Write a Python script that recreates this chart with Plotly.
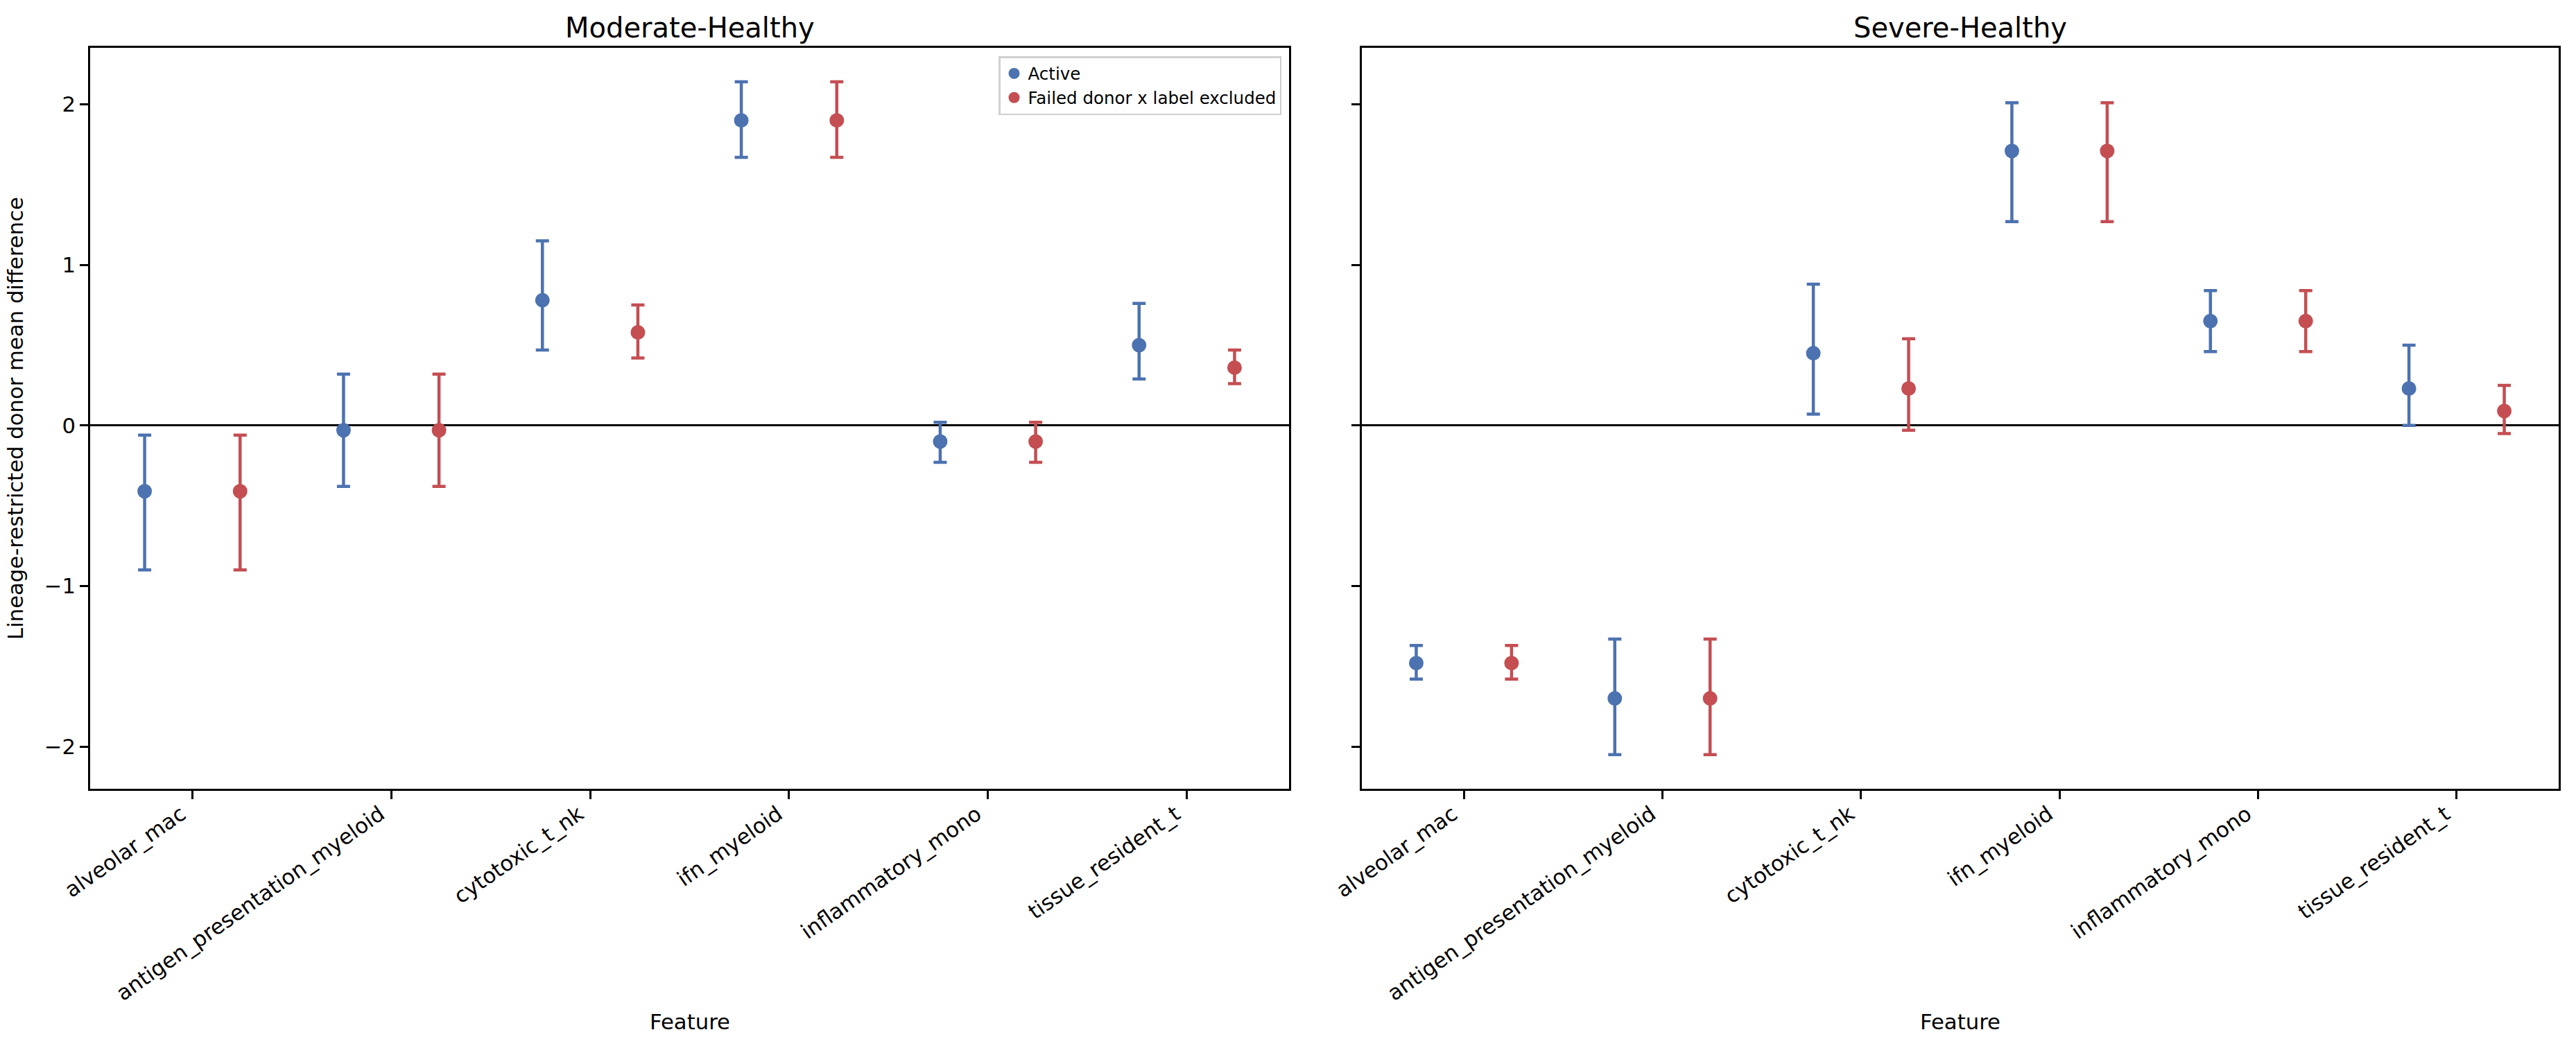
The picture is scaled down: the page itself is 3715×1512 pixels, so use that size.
import plotly.graph_objects as go
from plotly.subplots import make_subplots

features = ["alveolar_mac", "antigen_presentation_myeloid", "cytotoxic_t_nk",
            "ifn_myeloid", "inflammatory_mono", "tissue_resident_t"]
panels = ["Moderate-Healthy", "Severe-Healthy"]
series = ["Active", "Failed donor x label excluded"]

# Moderate-Healthy
mod_active = [-0.41, -0.03, 0.78, 1.90, -0.10, 0.50]
mod_active_lo = [-0.90, -0.38, 0.47, 1.67, -0.23, 0.29]
mod_active_hi = [-0.06, 0.32, 1.15, 2.14, 0.02, 0.76]
mod_failed = [-0.41, -0.03, 0.58, 1.90, -0.10, 0.36]
mod_failed_lo = [-0.90, -0.38, 0.42, 1.67, -0.23, 0.26]
mod_failed_hi = [-0.06, 0.32, 0.75, 2.14, 0.02, 0.47]

# Severe-Healthy
sev_active = [-1.48, -1.70, 0.45, 1.71, 0.65, 0.23]
sev_active_lo = [-1.58, -2.05, 0.07, 1.27, 0.46, 0.00]
sev_active_hi = [-1.37, -1.33, 0.88, 2.01, 0.84, 0.50]
sev_failed = [-1.48, -1.70, 0.23, 1.71, 0.65, 0.09]
sev_failed_lo = [-1.58, -2.05, -0.03, 1.27, 0.46, -0.05]
sev_failed_hi = [-1.37, -1.33, 0.54, 2.01, 0.84, 0.25]

colors = ["#4C72B0", "#C44E52"]
offsets = [-0.24, 0.24]
FONT = "DejaVu Sans"
LABEL_SIZE = 30.7

W, H = 3715, 1512

fig = make_subplots(rows=1, cols=2, shared_yaxes=True)

data = [
    [(mod_active, mod_active_lo, mod_active_hi), (mod_failed, mod_failed_lo, mod_failed_hi)],
    [(sev_active, sev_active_lo, sev_active_hi), (sev_failed, sev_failed_lo, sev_failed_hi)],
]

for p, panel in enumerate(data):
    for s, (vals, lo, hi) in enumerate(panel):
        xs = [i + offsets[s] for i in range(len(features))]
        fig.add_trace(go.Scatter(
            x=xs, y=vals, mode="markers", name=series[s],
            marker=dict(color=colors[s], size=21),
            error_y=dict(type="data", symmetric=False,
                         array=[h - v for h, v in zip(hi, vals)],
                         arrayminus=[v - l for v, l in zip(vals, lo)],
                         color=colors[s], thickness=4.5, width=9.5),
            showlegend=(p == 0), hoverinfo="skip",
        ), row=1, col=p + 1)

axis_common = dict(showline=True, mirror=True, linecolor="black", linewidth=2.7,
                   showgrid=False, ticks="outside", ticklen=12, tickwidth=2.7,
                   tickcolor="black",
                   tickfont=dict(family=FONT, size=LABEL_SIZE, color="black"))

xdoms = [[130 / W, 1859 / W], [1964 / W, 3690 / W]]
ydom = [1 - 1138 / H, 1 - 69 / H]

for c in range(2):
    fig.update_xaxes(domain=xdoms[c], range=[-0.514, 5.514], tickmode="array",
                     tickvals=list(range(len(features))), ticktext=features,
                     tickangle=-35, zeroline=False, ticklabelshift=-16,
                     ticklabelstandoff=-8,
                     **axis_common, row=1, col=c + 1)
    fig.update_yaxes(domain=ydom, range=[-2.263, 2.352], tickvals=[-2, -1, 0, 1, 2],
                     zeroline=True, zerolinecolor="black", zerolinewidth=3.3,
                     **axis_common, row=1, col=c + 1)

fig.update_yaxes(title=dict(text="Lineage-restricted donor mean difference",
                            font=dict(family=FONT, size=LABEL_SIZE, color="black"),
                            standoff=22),
                 row=1, col=1)
fig.update_yaxes(showticklabels=False, row=1, col=2)

for c, name in enumerate(panels):
    xc = sum(xdoms[c]) / 2
    fig.add_annotation(text=name, xref="paper", yref="paper",
                       x=xc, y=1 - 40 / H, xanchor="center", yanchor="middle",
                       showarrow=False, font=dict(family=FONT, size=40, color="black"))
    fig.add_annotation(text="Feature", xref="paper", yref="paper",
                       x=xc, y=1 - 1474 / H, xanchor="center", yanchor="middle",
                       showarrow=False, font=dict(family=FONT, size=LABEL_SIZE, color="black"))

fig.update_layout(
    width=W, height=H, margin=dict(l=0, r=0, t=0, b=0, autoexpand=False),
    plot_bgcolor="white", paper_bgcolor="white",
    font=dict(family=FONT, color="black"),
    legend=dict(x=1848 / W, y=1 - 81 / H, xanchor="right", yanchor="top",
                bgcolor="rgba(255,255,255,0.8)", bordercolor="#d0d0d0", borderwidth=2.5,
                font=dict(family=FONT, size=24.5, color="black"), itemsizing="trace",
                tracegroupgap=0),
)

fig.write_html("out.html", config={"displayModeBar": False},
               post_script="document.body.style.margin='0px';"
                           "document.body.style.overflow='hidden';")
